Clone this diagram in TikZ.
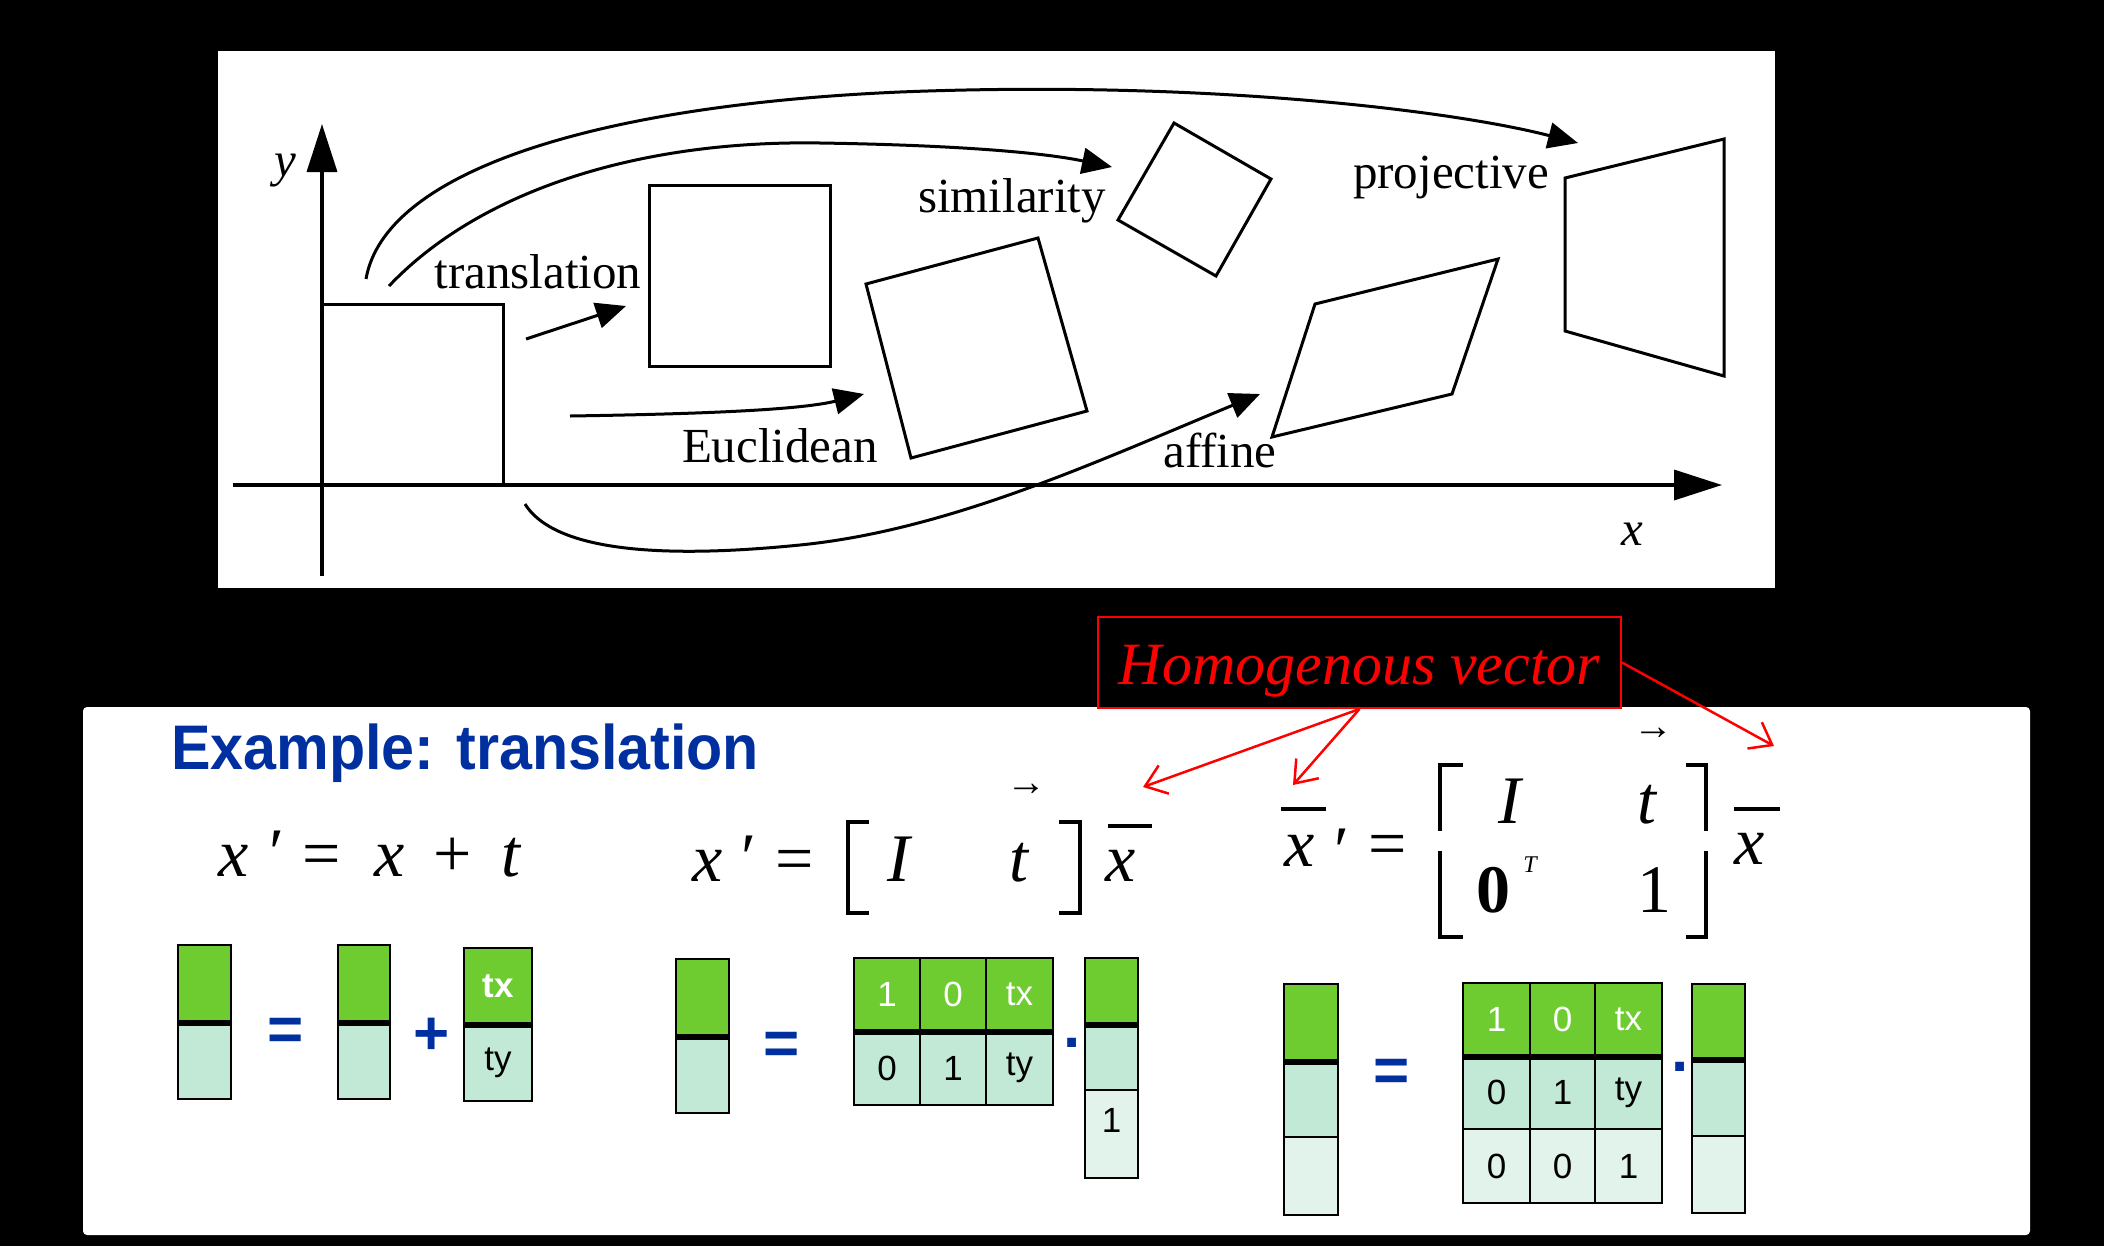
\documentclass[tikz,border=0pt]{standalone}
\usepackage{fontspec}
\setmainfont{Liberation Serif}
\newfontfamily\arialfont{Liberation Sans}
\newfontfamily\titlefont[FakeStretch=0.94]{Liberation Sans}
\usetikzlibrary{arrows.meta}

\definecolor{slideblue}{RGB}{0,48,160}
\definecolor{cellgreen}{RGB}{111,204,48}
\definecolor{cellmint}{RGB}{194,233,214}
\definecolor{celllight}{RGB}{226,243,235}

\begin{document}
\begin{tikzpicture}[x=1bp, y=-1bp,
  every node/.style={inner sep=0pt},
  shapeline/.style={line width=3bp},
  curvearrow/.style={line width=3bp, -{Triangle[length=30bp,width=26bp]}},
  axisarrow/.style={line width=3.5bp, -{Triangle[length=48bp,width=30bp]}},
  lbl/.style={font=\fontsize{49bp}{59bp}\selectfont},
  axlbl/.style={font=\fontsize{49bp}{59bp}\selectfont\itshape},
  eq/.style={font=\fontsize{68bp}{80bp}\selectfont\itshape},
  equp/.style={font=\fontsize{68bp}{80bp}\selectfont},
  tinyarrow/.style={font=\fontsize{40bp}{46bp}\selectfont},
  bracket/.style={line width=3.5bp},
  bar/.style={line width=4bp},
  bluesym/.style={font=\arialfont\fontsize{62bp}{72bp}\selectfont\bfseries, text=slideblue},
  redarrow/.style={red, line width=2.5bp, -{Straight Barb[length=20bp,width=30bp]}},
  cell/.style={draw=black, line width=2.5bp, font=\arialfont\fontsize{35bp}{40bp}\selectfont},
  gcell/.style={cell, fill=cellgreen, text=white},
  mcell/.style={cell, fill=cellmint},
  lcell/.style={cell, fill=celllight},
  split/.style={line width=6bp}]

  \useasboundingbox (0,0) rectangle (2104,1246);
  \fill[black] (0,0) rectangle (2104,1246);

  % upper panel: the transformation family
  \fill[white] (218,51) rectangle (1775,588);
  \draw[axisarrow] (233,485) -- (1722,485);
  \draw[axisarrow] (322,576) -- (322,124);
  \node[axlbl, anchor=base] (ylab) at (285,176) {y};
  \node[axlbl, anchor=base] (xlab) at (1632,545) {x};

  \draw[shapeline] (322,304) rectangle (503,485);
  \draw[shapeline] (649,185) rectangle (830,366);
  \draw[shapeline] (866,284) -- (1038,238) -- (1087,411) -- (911,458) -- cycle;
  \draw[shapeline] (1174,123) -- (1271,179) -- (1216,276) -- (1118,220) -- cycle;
  \draw[shapeline] (1315,304) -- (1498,259) -- (1452,394) -- (1272,437) -- cycle;
  \draw[shapeline] (1565,178) -- (1724,139) -- (1724,376) -- (1565,331) -- cycle;

  \node[lbl, anchor=base] (ltrans) at (538,288) {translation};
  \node[lbl, anchor=base] (leucl)  at (780,462) {Euclidean};
  \node[lbl, anchor=base] (lsim)   at (1012,212) {similarity};
  \node[lbl, anchor=base] (lproj)  at (1451,188) {projective};
  \node[lbl, anchor=base] (laff)   at (1220,467) {affine};

  \coordinate (trs) at (526,339);   \coordinate (trt) at (626,306);
  \coordinate (eus) at (570,416);   \coordinate (eut) at (864,394);
  \coordinate (sis) at (389,286);   \coordinate (sit) at (1112,167);
  \coordinate (prs) at (366,279);   \coordinate (prt) at (1578,143);
  \coordinate (afs) at (525,504);   \coordinate (aft) at (1260,394);
  \draw[curvearrow] (trs) -- (trt);
  \draw[curvearrow] (eus) .. controls (700,414) and (800,410) .. (eut);
  \draw[curvearrow] (sis) .. controls (480,190) and (640,140) .. (820,143)
                          .. controls (950,145) and (1040,152) .. (sit);
  \draw[curvearrow] (prs) .. controls (385,170) and (600,105) .. (900,92)
                          .. controls (1200,80) and (1450,110) .. (prt);
  \draw[curvearrow] (afs) .. controls (560,560) and (700,555) .. (800,545)
                          .. controls (950,530) and (1100,460) .. (aft);

  % lower panel: translation example
  \fill[white, rounded corners=4bp] (83,707) rectangle (2030,1235);
  \node[font=\titlefont\fontsize{63bp}{75bp}\selectfont\bfseries, text=slideblue,
        anchor=base west] (title) at (171,769) {Example: translation};

  \node[draw=red, line width=2bp, minimum width=523bp, minimum height=91bp,
        text height=55bp, text depth=12bp, text=red,
        font=\fontsize{60bp}{70bp}\selectfont\itshape] (hv) at (1359.5,662.5)
        {Homogenous vector};

  % x' = x + t
  \node[eq, anchor=base]    (e1x)  at (234,876) {x};
  \node[equp, anchor=north] (e1p)  at (277,831) {′};
  \node[equp, anchor=base]  (e1eq) at (322,876) {=};
  \node[eq, anchor=base]    (e1y)  at (390,876) {x};
  \node[equp, anchor=base]  (e1pl) at (453,876) {+};
  \node[eq, anchor=base]    (e1t)  at (511,876) {t};

  % x' = [I t] xbar
  \node[eq, anchor=base]    (e2x)  at (708,881) {x};
  \node[equp, anchor=north] (e2p)  at (749,836) {′};
  \node[equp, anchor=base]  (e2eq) at (795,881) {=};
  \draw[bracket] (869,822) -- (848,822) -- (848,913) -- (869,913);
  \node[eq, anchor=base]    (e2i)  at (899,881) {I};
  \node[eq, anchor=base]    (e2t)  at (1019,881) {t};
  \node[tinyarrow, anchor=north] (e2v) at (1026,784) {→};
  \draw[bracket] (1059,822) -- (1080,822) -- (1080,913) -- (1059,913);
  \node[eq, anchor=base]    (e2xb) at (1121,881) {x};
  \draw[bar] (1108,826) -- (1152,826);

  % xbar' = [I t; 0^T 1] xbar
  \node[eq, anchor=base]    (e3x)  at (1300,866) {x};
  \draw[bar] (1281,809) -- (1326,809);
  \node[equp, anchor=north] (e3p)  at (1342,829) {′};
  \node[equp, anchor=base]  (e3eq) at (1388,866) {=};
  \draw[bracket] (1463,765) -- (1440,765) -- (1440,831);
  \draw[bracket] (1440,851) -- (1440,937) -- (1463,937);
  \node[eq, anchor=base]    (e3i)  at (1510,823) {I};
  \node[eq, anchor=base]    (e3t)  at (1647,823) {t};
  \node[tinyarrow, anchor=north] (e3v) at (1653,728) {→};
  \node[equp, font=\fontsize{68bp}{80bp}\selectfont\bfseries, anchor=base]
        (e3z) at (1493,912) {0};
  \node[font=\fontsize{24bp}{28bp}\selectfont\itshape, anchor=north]
        (e3tr) at (1530,857) {T};
  \node[equp, anchor=base]  (e3o)  at (1654,912) {1};
  \draw[bracket] (1686,765) -- (1706,765) -- (1706,831);
  \draw[bracket] (1706,851) -- (1706,937) -- (1686,937);
  \node[eq, anchor=base]    (e3xb) at (1750,864) {x};
  \draw[bar] (1734,809) -- (1780,809);

  % arrows from the label
  \coordinate (hva) at (1143,787);
  \coordinate (hvb) at (1293,785);
  \coordinate (hvc) at (1774,746);
  \draw[redarrow] (hv.south) -- (hva);
  \draw[redarrow] (hv.south) -- (hvb);
  \draw[redarrow] (hv.east) -- (hvc);

  % block form of x' = x + t
  \node[gcell, minimum width=53bp, minimum height=77bp] (v1a) at (204.5,983.5) {};
  \node[mcell, minimum width=53bp, minimum height=77bp] (v1b) at (204.5,1060.5) {};
  \node[bluesym, anchor=north] (s1) at (286,1018) {=};
  \node[gcell, minimum width=52bp, minimum height=77bp] (v2a) at (364,983.5) {};
  \node[mcell, minimum width=52bp, minimum height=77bp] (v2b) at (364,1060.5) {};
  \node[bluesym, anchor=north] (s2) at (432,1018) {+};
  \node[gcell, minimum width=68bp, minimum height=76bp, font=\arialfont\fontsize{35bp}{40bp}\selectfont\bfseries]
        (v3a) at (498,986) {tx};
  \node[mcell, minimum width=68bp, minimum height=77bp] (v3b) at (498,1062.5) {ty};
  \draw[split] (v1a.south west) -- (v1a.south east);
  \draw[split] (v2a.south west) -- (v2a.south east);
  \draw[split] (v3a.south west) -- (v3a.south east);

  % block form of x' = [I t] xbar
  \node[gcell, minimum width=53bp, minimum height=77bp] (v4a) at (702.5,997.5) {};
  \node[mcell, minimum width=53bp, minimum height=77bp] (v4b) at (702.5,1074.5) {};
  \node[bluesym, anchor=north] (s3) at (782,1032) {=};
  \node[gcell, minimum width=66bp, minimum height=73bp] (m2a) at (887,994.5) {1};
  \node[gcell, minimum width=66bp, minimum height=73bp] (m2b) at (953,994.5) {0};
  \node[gcell, minimum width=67bp, minimum height=73bp] (m2c) at (1019.5,994.5) {tx};
  \node[mcell, minimum width=66bp, minimum height=74bp] (m2d) at (887,1068) {0};
  \node[mcell, minimum width=66bp, minimum height=74bp] (m2e) at (953,1068) {1};
  \node[mcell, minimum width=67bp, minimum height=74bp] (m2f) at (1019.5,1068) {ty};
  \node[bluesym, anchor=north] (s4) at (1072,1038) {.};
  \node[gcell, minimum width=53bp, minimum height=66bp] (v5a) at (1111.5,991) {};
  \node[mcell, minimum width=53bp, minimum height=66bp] (v5b) at (1111.5,1057) {};
  \node[lcell, minimum width=53bp, minimum height=88bp, text depth=28bp] (v5c) at (1111.5,1134) {1};
  \draw[split] (v4a.south west) -- (v4a.south east);
  \draw[split] (m2a.south west) -- (m2c.south east);
  \draw[split] (v5a.south west) -- (v5a.south east);

  % block form of xbar' = [I t; 0 1] xbar
  \node[gcell, minimum width=54bp, minimum height=77bp] (v6a) at (1311,1022.5) {};
  \node[mcell, minimum width=54bp, minimum height=76bp] (v6b) at (1311,1099) {};
  \node[lcell, minimum width=54bp, minimum height=78bp] (v6c) at (1311,1176) {};
  \node[bluesym, anchor=north] (s5) at (1392,1059) {=};
  \node[gcell, minimum width=67bp, minimum height=73bp] (m3a) at (1496.5,1019.5) {1};
  \node[gcell, minimum width=65bp, minimum height=73bp] (m3b) at (1562.5,1019.5) {0};
  \node[gcell, minimum width=67bp, minimum height=73bp] (m3c) at (1628.5,1019.5) {tx};
  \node[mcell, minimum width=67bp, minimum height=73bp] (m3d) at (1496.5,1092.5) {0};
  \node[mcell, minimum width=65bp, minimum height=73bp] (m3e) at (1562.5,1092.5) {1};
  \node[mcell, minimum width=67bp, minimum height=73bp] (m3f) at (1628.5,1092.5) {ty};
  \node[lcell, minimum width=67bp, minimum height=74bp] (m3g) at (1496.5,1166) {0};
  \node[lcell, minimum width=65bp, minimum height=74bp] (m3h) at (1562.5,1166) {0};
  \node[lcell, minimum width=67bp, minimum height=74bp] (m3i) at (1628.5,1166) {1};
  \node[bluesym, anchor=north] (s6) at (1680,1062) {.};
  \node[gcell, minimum width=53bp, minimum height=75bp] (v7a) at (1718.5,1021.5) {};
  \node[mcell, minimum width=53bp, minimum height=77bp] (v7b) at (1718.5,1097.5) {};
  \node[lcell, minimum width=53bp, minimum height=77bp] (v7c) at (1718.5,1174.5) {};
  \draw[split] (v6a.south west) -- (v6a.south east);
  \draw[split] (m3a.south west) -- (m3c.south east);
  \draw[split] (v7a.south west) -- (v7a.south east);
\end{tikzpicture}
\end{document}
